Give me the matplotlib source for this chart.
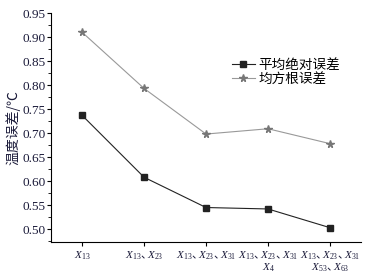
import matplotlib
matplotlib.use('Agg')
import matplotlib.pyplot as plt
from matplotlib.ticker import MultipleLocator

plt.rcParams['font.family'] = ['Liberation Serif', 'Noto Sans CJK SC', 'DejaVu Sans']
plt.rcParams['mathtext.fontset'] = 'custom'
plt.rcParams['mathtext.rm'] = 'Liberation Serif'
plt.rcParams['mathtext.it'] = 'Liberation Serif:italic'
plt.rcParams['mathtext.default'] = 'it'

# data
combos = [r'$X_{13}$',
          r'$X_{13}$、$\!\!\!X_{23}$',
          r'$X_{13}$、$\!\!\!X_{23}$、$\!\!\!X_{31}$',
          '$X_{13}$、$\\!\\!\\!X_{23}$、$\\!\\!\\!X_{31}$\n$X_4$',
          '$X_{13}$、$\\!\\!\\!X_{23}$、$\\!\\!\\!X_{31}$\n$X_{53}$、$\\!\\!\\!X_{63}$']
mae = [0.737, 0.608, 0.545, 0.542, 0.503]
rmse = [0.910, 0.793, 0.698, 0.709, 0.678]

txt = '#1b1b3a'
pos = range(1, len(combos) + 1)

fig = plt.figure(figsize=(3.65, 2.77), dpi=100)
ax = fig.add_axes([0.140, 0.126, 0.849, 0.827])

ax.plot(pos, mae, color='#222222', lw=0.8, marker='s', ms=4, label='平均绝对误差')
ax.plot(pos, rmse, color='#999999', lw=0.8, marker='*', ms=5.5,
        mfc='#777777', mec='#777777', label='均方根误差')

ax.set_xlim(0.5, 5.5)
ax.set_ylim(0.473, 0.95)
ax.yaxis.set_minor_locator(MultipleLocator(0.025))
yt = [0.50, 0.55, 0.60, 0.65, 0.70, 0.75, 0.80, 0.85, 0.90, 0.95]
ax.set_yticks(yt)
ax.set_yticklabels(['%.2f' % v for v in yt], fontsize=9.5, color=txt)
ax.set_xticks(list(pos))
ax.set_xticklabels(combos, fontsize=8, color=txt, linespacing=1.0,
                   family=['Noto Sans CJK SC'])
ax.tick_params(axis='both', length=3, width=0.8, pad=1)
ax.tick_params(axis='y', which='minor', length=2, width=0.6)
ax.tick_params(axis='x', pad=2)

for s in ['top', 'right']:
    ax.spines[s].set_visible(False)

ax.set_ylabel('温度误差/℃', fontsize=10, color=txt,
              family=['Noto Sans CJK SC', 'DejaVu Sans'], labelpad=1)

ax.legend(loc='upper left', bbox_to_anchor=(0.552, 0.845), frameon=False,
          prop={'family': ['Noto Sans CJK SC'], 'size': 9.8},
          handlelength=1.7, handletextpad=0.28, labelspacing=0.0, borderpad=0.2)

fig.savefig('out.png', dpi=100)
